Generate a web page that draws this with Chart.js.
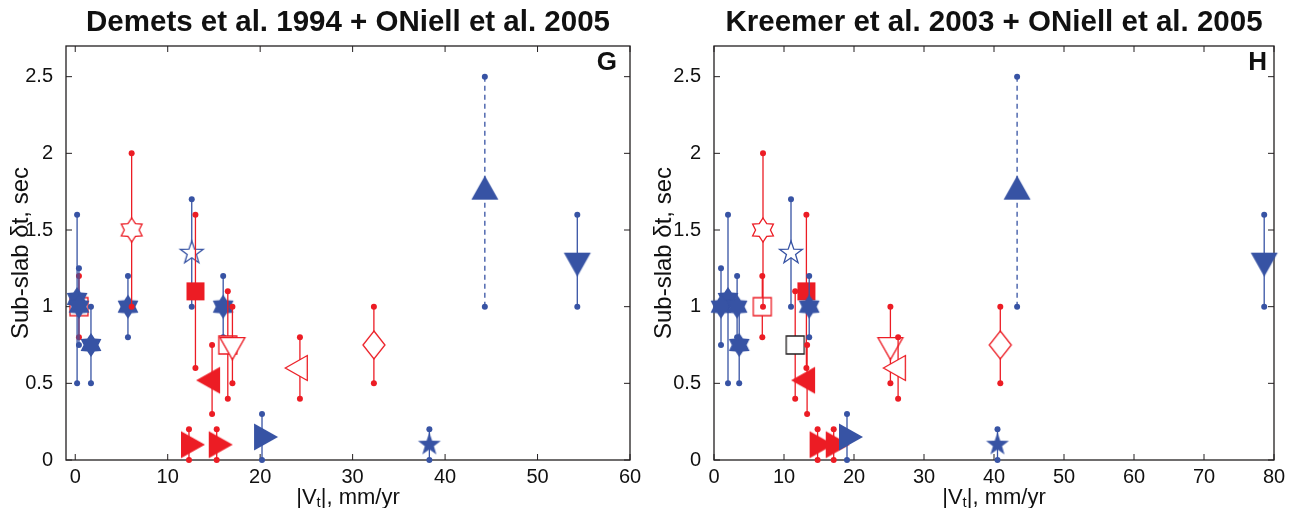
<!DOCTYPE html>
<html>
<head>
<meta charset="utf-8">
<script src="https://cdn.jsdelivr.net/npm/chart.js@4.4.0/dist/chart.umd.min.js"></script>
<style>
  body { margin: 0; background: #fff; }
  canvas { position: absolute; top: 0; }
  #left { left: 0; }
  #right { left: 646px; }
</style>
</head>
<body>
<canvas id="left" width="646" height="508"></canvas>
<canvas id="right" width="647" height="508"></canvas>
<script>
// one entry per site, in drawing order (later sites sit on top)
const siteMarkers = ['squareOpen', 'hexagram', 'hexagram', 'hexagram', 'hexagram', 'hexagramOpen',
  'pentagramOpen', 'square', 'hexagram', 'squareOpen', 'triDownOpen', 'triLeft', 'triLeftOpen',
  'diamondOpen', 'triRight', 'triRight', 'triRight', 'pentagram', 'triUp', 'triDown'];
const siteGroups = ['red', 'blue', 'blue', 'blue', 'blue', 'red', 'blue', 'red', 'blue', 'red',
  'red', 'red', 'red', 'red', 'red', 'red', 'blue', 'blue', 'blue', 'blue'];
const dtValues = [1.0, 1.05, 1.0, 0.75, 1.0, 1.5, 1.35, 1.1, 1.0, 0.75, 0.75, 0.52, 0.6, 0.75, 0.1, 0.1, 0.15, 0.1, 1.75, 1.3];
const dtLow    = [0.8, 0.5, 0.75, 0.5, 0.8, 1.0, 1.0, 0.6, 0.8, 0.4, 0.5, 0.3, 0.4, 0.5, 0, 0, 0, 0, 1.0, 1.0];
const dtHigh   = [1.2, 1.6, 1.25, 1.0, 1.2, 2.0, 1.7, 1.6, 1.2, 1.1, 1.0, 0.75, 0.8, 1.0, 0.2, 0.2, 0.3, 0.2, 2.5, 1.6];
const vtDemets  = [0.4, 0.2, 0.4, 1.7, 5.7, 6.1, 12.6, 13.0, 16.0, 16.5, 17.0, 14.8, 24.3, 32.3, 12.3, 15.3, 20.2, 38.3, 44.3, 54.3];
const vtKreemer = [6.9, 2.0, 1.0, 3.6, 3.3, 7.0, 11.0, 13.2, 13.6, 11.6, 25.2, 13.3, 26.3, 40.9, 14.8, 17.1, 19.0, 40.5, 43.3, 78.6];
const dashedSites = [18];

const yTicks = [0, 0.5, 1, 1.5, 2, 2.5];
const xTicksDemets = [0, 10, 20, 30, 40, 50, 60];
const xTicksKreemer = [0, 10, 20, 30, 40, 50, 60, 70, 80];

const BLUE = '#3753a4';
const RED = '#ec1c24';
const INK = '#231f20';
const FONT = '"Liberation Sans", Arial, Helvetica, sans-serif';

function starPath(g, n, R, r) {
  for (let i = 0; i < 2 * n; i++) {
    const a = -Math.PI / 2 + i * Math.PI / n;
    const rad = i % 2 ? r : R;
    if (i === 0) g.moveTo(rad * Math.cos(a), rad * Math.sin(a));
    else g.lineTo(rad * Math.cos(a), rad * Math.sin(a));
  }
  g.closePath();
}

// marker glyphs drawn once, then handed to Chart.js as point styles
function makeMarker(kind, color, edge) {
  const open = kind.endsWith('Open');
  const shape = open ? kind.slice(0, -4) : kind;
  const c = document.createElement('canvas');
  c.width = 40; c.height = 40;
  const g = c.getContext('2d');
  g.translate(20, 20);
  g.beginPath();
  if (shape === 'hexagram') starPath(g, 6, 12, 12 * 0.62);
  else if (shape === 'pentagram') starPath(g, 5, 12, 12 * 0.4);
  else if (shape === 'diamond') {
    g.moveTo(0, -14); g.lineTo(11, 0); g.lineTo(0, 14); g.lineTo(-11, 0); g.closePath();
  } else if (shape === 'square') {
    const s = 9;
    g.rect(-s, -s, 2 * s, 2 * s);
  } else {
    // triangles are centred on their centroid
    const rot = {triUp: 0, triRight: 90, triDown: 180, triLeft: 270}[shape];
    const w = open ? 25 : 27, h = open ? 22 : 24;
    g.rotate(rot * Math.PI / 180);
    g.moveTo(0, -2 * h / 3); g.lineTo(w / 2, h / 3); g.lineTo(-w / 2, h / 3); g.closePath();
  }
  g.fillStyle = open ? '#fff' : color;
  g.fill();
  if (open) { g.lineWidth = 1.3; g.strokeStyle = edge || color; g.stroke(); }
  return c;
}

function buildDatasets(vt, edges) {
  const sets = [];
  vt.forEach((v, i) => {
    const color = siteGroups[i] === 'blue' ? BLUE : RED;
    sets.push({
      data: [{x: v, y: dtLow[i]}, {x: v, y: dtHigh[i]}],
      showLine: true,
      borderColor: color,
      borderWidth: 1.3,
      borderDash: dashedSites.includes(i) ? [5, 4] : [],
      pointRadius: 3,
      pointBackgroundColor: color,
      pointBorderWidth: 0,
      clip: false
    });
    sets.push({
      data: [{x: v, y: dtValues[i]}],
      pointStyle: makeMarker(siteMarkers[i], color, edges[i]),
      pointRadius: 12,
      clip: false
    });
  });
  return sets.reverse(); // Chart.js paints the first dataset last
}

const framePlugin = {
  id: 'frame',
  beforeDatasetsDraw(chart) {
    const {ctx, chartArea: a, scales: {x, y}} = chart;
    ctx.save();
    ctx.strokeStyle = INK;
    ctx.lineWidth = 1.3;
    ctx.strokeRect(a.left, a.top, a.right - a.left, a.bottom - a.top);
    ctx.lineWidth = 1;
    ctx.beginPath();
    x.ticks.forEach(t => {
      const px = x.getPixelForValue(t.value);
      ctx.moveTo(px, a.bottom); ctx.lineTo(px, a.bottom - 6);
      ctx.moveTo(px, a.top); ctx.lineTo(px, a.top + 6);
    });
    y.ticks.forEach(t => {
      const py = y.getPixelForValue(t.value);
      ctx.moveTo(a.left, py); ctx.lineTo(a.left + 6, py);
      ctx.moveTo(a.right, py); ctx.lineTo(a.right - 6, py);
    });
    ctx.stroke();
    ctx.restore();
  },
  afterDraw(chart, args, opts) {
    const {ctx, chartArea: a} = chart;
    ctx.save();
    ctx.fillStyle = '#111';
    // panel letter
    ctx.font = 'bold 26px ' + FONT;
    ctx.textAlign = 'right';
    ctx.textBaseline = 'middle';
    ctx.fillText(opts.letter, a.right - opts.letterInset, a.top + 17);
    // x-axis label with subscript t
    const parts = [['|V', '22px ', 0], ['t', '15px ', 3], ['|, mm/yr', '22px ', 0]];
    let total = 0;
    parts.forEach(p => { ctx.font = p[1] + FONT; total += ctx.measureText(p[0]).width; });
    let xPos = (a.left + a.right) / 2 - total / 2;
    ctx.textAlign = 'left';
    ctx.textBaseline = 'alphabetic';
    parts.forEach(p => {
      ctx.font = p[1] + FONT;
      ctx.fillText(p[0], xPos, 504 + p[2]);
      xPos += ctx.measureText(p[0]).width;
    });
    ctx.restore();
  }
};

function makeChart(id, title, letter, letterInset, vt, edges, xTicks, xMin, xMax, yWidth, padRight, yTitlePad) {
  new Chart(document.getElementById(id), {
    type: 'scatter',
    data: {datasets: buildDatasets(vt, edges)},
    options: {
      responsive: false,
      animation: false,
      devicePixelRatio: 1,
      events: [],
      layout: {padding: {left: 0, right: padRight, top: 0, bottom: 0}},
      plugins: {
        legend: {display: false},
        tooltip: {enabled: false},
        title: {
          display: true,
          text: title,
          fullSize: false,
          color: '#111',
          font: {family: FONT, size: 29.5, weight: 'bold'},
          padding: {top: 5, bottom: 5.6}
        },
        frame: {letter: letter, letterInset: letterInset}
      },
      scales: {
        x: {
          type: 'linear',
          min: xMin,
          max: xMax,
          grid: {display: false},
          border: {display: false},
          afterBuildTicks: s => { s.ticks = xTicks.map(v => ({value: v})); },
          afterFit: s => { s.height = 48; },
          ticks: {
            padding: -3,
            color: '#111',
            font: {family: FONT, size: 20},
            maxRotation: 0,
            callback: v => String(v)
          }
        },
        y: {
          type: 'linear',
          min: 0,
          max: 2.7,
          grid: {display: false},
          border: {display: false},
          afterBuildTicks: s => { s.ticks = yTicks.map(v => ({value: v})); },
          afterFit: s => { s.width = yWidth; },
          ticks: {
            padding: 5,
            color: '#111',
            font: {family: FONT, size: 20},
            callback: v => String(v)
          },
          title: {
            display: true,
            text: 'Sub-slab δt, sec',
            color: '#111',
            font: {family: FONT, size: 24},
            padding: {top: yTitlePad, bottom: 0}
          }
        }
      }
    },
    plugins: [framePlugin]
  });
}

// in the Kreemer panel one open square is outlined in black
const edgesDemets = siteMarkers.map(() => null);
const edgesKreemer = siteMarkers.map((m, i) => (i === 9 ? INK : null));

makeChart('left', 'Demets et al. 1994 + ONiell et al. 2005', 'G', 13, vtDemets, edgesDemets, xTicksDemets, -1, 60, 66, 16, 6.8);
makeChart('right', 'Kreemer et al. 2003 + ONiell et al. 2005', 'H', 7, vtKreemer, edgesKreemer, xTicksKreemer, 0, 80, 68, 19, 3.8);
</script>
</body>
</html>
